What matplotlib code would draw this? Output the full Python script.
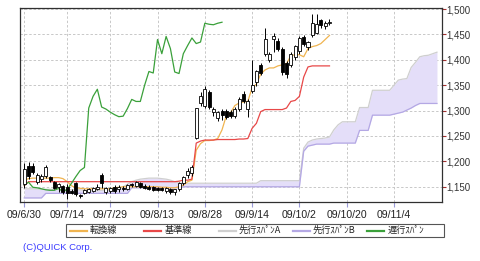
import numpy as np
import matplotlib
matplotlib.use('Agg')
import matplotlib.pyplot as plt
from matplotlib.lines import Line2D
from matplotlib.patches import Rectangle
from matplotlib.ticker import FuncFormatter

plt.rcParams['font.family'] = ['Liberation Sans', 'DejaVu Sans']

# --- ローソク足 (日足)
opens = [1155, 1190, 1191, 1160, 1165, 1172, 1170, 1160, 1150, 1152,
         1150, 1142, 1157, 1134, 1138, 1140, 1142, 1145, 1173, 1140,
         1142, 1150, 1145, 1148, 1146, 1155, 1152, 1157, 1152, 1150,
         1149, 1148, 1147, 1141, 1146, 1140, 1145, 1158, 1173, 1178,
         1246, 1315, 1310, 1336, 1297, 1285, 1300, 1300, 1298, 1290,
         1303, 1332, 1303, 1338, 1356, 1390, 1412, 1400, 1440, 1438,
         1422, 1393, 1389, 1405, 1418, 1445, 1426, 1448, 1452, 1478,
         1466, 1473]
highs = [1196, 1198, 1196, 1178, 1175, 1192, 1172, 1162, 1158, 1154,
         1156, 1145, 1160, 1136, 1146, 1148, 1150, 1155, 1178, 1150,
         1150, 1153, 1153, 1152, 1156, 1158, 1162, 1160, 1155, 1153,
         1152, 1150, 1150, 1149, 1148, 1146, 1160, 1172, 1186, 1192,
         1306, 1336, 1348, 1340, 1308, 1300, 1304, 1303, 1302, 1308,
         1326, 1338, 1322, 1399, 1380, 1393, 1462, 1416, 1452, 1442,
         1425, 1397, 1415, 1430, 1447, 1448, 1438, 1491, 1491, 1480,
         1476, 1480]
lows = [1148, 1165, 1175, 1155, 1160, 1168, 1160, 1145, 1140, 1136,
        1125, 1135, 1132, 1128, 1136, 1138, 1140, 1143, 1148, 1136,
        1137, 1138, 1140, 1142, 1144, 1150, 1150, 1147, 1145, 1143,
        1142, 1141, 1141, 1138, 1136, 1133, 1141, 1154, 1168, 1172,
        1244, 1309, 1305, 1303, 1290, 1280, 1282, 1283, 1285, 1286,
        1300, 1314, 1288, 1335, 1348, 1370, 1408, 1396, 1415, 1418,
        1370, 1364, 1385, 1400, 1412, 1428, 1420, 1445, 1450, 1462,
        1460, 1468]
closes = [1185, 1172, 1180, 1174, 1172, 1188, 1163, 1148, 1155, 1140,
          1138, 1138, 1135, 1131, 1143, 1145, 1148, 1150, 1157, 1147,
          1148, 1141, 1150, 1145, 1153, 1153, 1159, 1149, 1148, 1146,
          1144, 1143, 1143, 1147, 1140, 1145, 1157, 1170, 1182, 1188,
          1305, 1328, 1342, 1307, 1303, 1297, 1292, 1288, 1289, 1304,
          1322, 1318, 1318, 1350, 1377, 1374, 1440, 1412, 1446, 1422,
          1376, 1373, 1412, 1428, 1443, 1432, 1435, 1472, 1470, 1469,
          1472, 1474]

# --- 一目均衡表
tenkan = [1163, 1166, 1167, 1167, 1167, 1167, 1167, 1168, 1168, 1166,
          1160, 1152, 1148, 1147, 1146, 1146, 1146, 1146, 1146, 1146,
          1146, 1148, 1149, 1150, 1150, 1150, 1150, 1150, 1150, 1150,
          1150, 1150, 1149, 1149, 1148, 1148, 1150, 1153, 1160, 1163,
          1222, 1235, 1241, 1241, 1242, 1245, 1262, 1290, 1296, 1310,
          1315, 1317, 1318, 1345, 1352, 1372, 1380, 1384, 1384, 1388,
          1390, 1392, 1408, 1410, 1410, 1406, 1422, 1426, 1428, 1432,
          1440, 1448]
kijun = [1152, 1160, 1160, 1160, 1160, 1160, 1160, 1160, 1160, 1160,
         1160, 1160, 1160, 1160, 1160, 1160, 1160, 1160, 1160, 1160,
         1160, 1160, 1160, 1160, 1160, 1160, 1160, 1160, 1160, 1160,
         1160, 1160, 1160, 1160, 1160, 1160, 1161, 1163, 1163, 1165,
         1236, 1240, 1242, 1242, 1242, 1243, 1243, 1243, 1243, 1243,
         1244, 1244, 1245, 1265, 1275, 1298, 1302, 1302, 1302, 1302,
         1302, 1305, 1318, 1320, 1328, 1366, 1386, 1388, 1388, 1388,
         1388, 1388]
span_a = [1146, 1146, 1146, 1146, 1145, 1145, 1145, 1145, 1145, 1145,
          1144, 1144, 1144, 1144, 1143, 1143, 1143, 1143, 1143, 1143,
          1143, 1143, 1145, 1150, 1155, 1160, 1163, 1165, 1166, 1167,
          1167, 1167, 1166, 1165, 1163, 1160, 1157, 1157, 1157, 1157,
          1157, 1157, 1157, 1157, 1157, 1157, 1157, 1157, 1157, 1157,
          1157, 1157, 1157, 1157, 1157, 1162, 1162, 1162, 1162, 1162,
          1162, 1162, 1162, 1162, 1162, 1226, 1238, 1242, 1244, 1245,
          1246, 1248, 1262, 1272, 1278, 1278, 1278, 1278, 1306, 1306,
          1306, 1340, 1340, 1340, 1340, 1340, 1350, 1360, 1362, 1363,
          1385, 1395, 1406, 1408, 1409, 1412, 1415]
span_b = [1128, 1128, 1128, 1128, 1128, 1137, 1137, 1137, 1137, 1137,
          1137, 1137, 1137, 1137, 1137, 1137, 1137, 1137, 1137, 1137,
          1137, 1137, 1137, 1137, 1137, 1148, 1148, 1148, 1148, 1148,
          1148, 1148, 1148, 1148, 1148, 1148, 1148, 1150, 1150, 1150,
          1150, 1150, 1150, 1150, 1150, 1150, 1150, 1150, 1150, 1150,
          1150, 1150, 1150, 1150, 1150, 1150, 1150, 1150, 1150, 1150,
          1150, 1150, 1150, 1150, 1150, 1220, 1230, 1232, 1234, 1234,
          1234, 1234, 1236, 1236, 1236, 1236, 1236, 1236, 1261, 1261,
          1261, 1291, 1291, 1291, 1291, 1291, 1293, 1295, 1297, 1301,
          1305, 1310, 1314, 1314, 1314, 1314, 1314]
lag = 25

tick_pos = [0, 10, 20, 31, 42, 53, 64, 75, 86]
tick_labels = ['09/6/30', '09/7/14', '09/7/29', '09/8/13', '09/8/28',
               '09/9/14', '09/10/2', '09/10/20', '09/11/4']
y_ticks = [1150, 1200, 1250, 1300, 1350, 1400, 1450, 1500]

leg_names = ['転換線', '基準線', '先行ｽﾊﾟﾝA', '先行ｽﾊﾟﾝB', '遅行ｽﾊﾟﾝ']
c_tenkan, c_kijun, c_a, c_b, c_chikou = '#f0b450', '#e84848', '#cfcfcf', '#b4a8e4', '#3aa03a'
leg_colors = [c_tenkan, c_kijun, c_a, c_b, c_chikou]

W, H = 480, 261
fig = plt.figure(figsize=(W / 100, H / 100), dpi=100)
ax = fig.add_axes([20 / W, 1 - 202 / H, (441.7 - 20) / W, (202 - 8) / H])

o = np.array(opens); h = np.array(highs); l = np.array(lows); c = np.array(closes)
xc = np.arange(len(c))
xs = np.arange(len(span_a))

# 雲
ax.fill_between(xs, span_a, span_b, color='#e4def9', lw=0, zorder=1)
ax.plot(xs, span_a, color=c_a, lw=0.9, zorder=2)
ax.plot(xs, span_b, color=c_b, lw=0.9, zorder=2)

# 線
ax.plot(xc, tenkan, color=c_tenkan, lw=0.9, zorder=3)
ax.plot(xc, kijun, color=c_kijun, lw=0.9, zorder=3)
ax.plot(xc[lag:] - lag, c[lag:], color=c_chikou, lw=0.9, zorder=3)

# ローソク足
up = c >= o
ax.vlines(xc, l, h, color='black', lw=0.7, zorder=4)
body_lo = np.minimum(o, c)
body_h = np.maximum(np.abs(c - o), 1.0)
ax.bar(xc, body_h, bottom=body_lo, width=0.7,
       color=np.where(up, 'white', 'black'), edgecolor='black', lw=0.6, zorder=5)

ax.set_xlim(-0.99, 97.1)
ax.set_ylim(1120, 1502)

ax.set_xticks(tick_pos)
ax.set_xticklabels(tick_labels)
ax.yaxis.tick_right()
ax.set_yticks(y_ticks)
ax.yaxis.set_major_formatter(FuncFormatter(lambda v, p: f'{int(v):,}'))
ax.tick_params(axis='x', length=3.5, width=0.8, color='#9a9ad8', labelsize=7.6,
               labelcolor='#222222', pad=2)
ax.tick_params(axis='y', length=3, width=0.8, color='#a03030', labelsize=7,
               labelcolor='#333333', pad=0.5)

ax.grid(True, color='#c8c8c8', linestyle=(0, (2.5, 2)), lw=0.7, zorder=0)
ax.set_axisbelow(True)
for s in ax.spines.values():
    s.set_color('#303030')
    s.set_linewidth(0.9)

# 凡例
yc = 1 - 230.7 / H
fig.add_artist(Rectangle((65.7 / W, 1 - 237.3 / H), (444 - 65.7) / W, 13.3 / H,
                         transform=fig.transFigure, facecolor='white',
                         edgecolor='#555555', lw=0.8))
for k, (name, col) in enumerate(zip(leg_names, leg_colors)):
    x0 = (70 + 74.3 * k) / W
    fig.add_artist(Line2D([x0, x0 + 17 / W], [yc, yc], color=col, lw=1.6,
                          transform=fig.transFigure))
    fig.text(x0 + 20 / W, yc, name, va='center', ha='left', fontsize=6.6,
             color='#222222', family=['Noto Sans CJK JP', 'DejaVu Sans'])

fig.text(23 / W, 1 - 247 / H, '(C)QUICK Corp.', va='center', ha='left',
         fontsize=6.8, color='#3a3aff')

fig.savefig('out.png', dpi=100)
